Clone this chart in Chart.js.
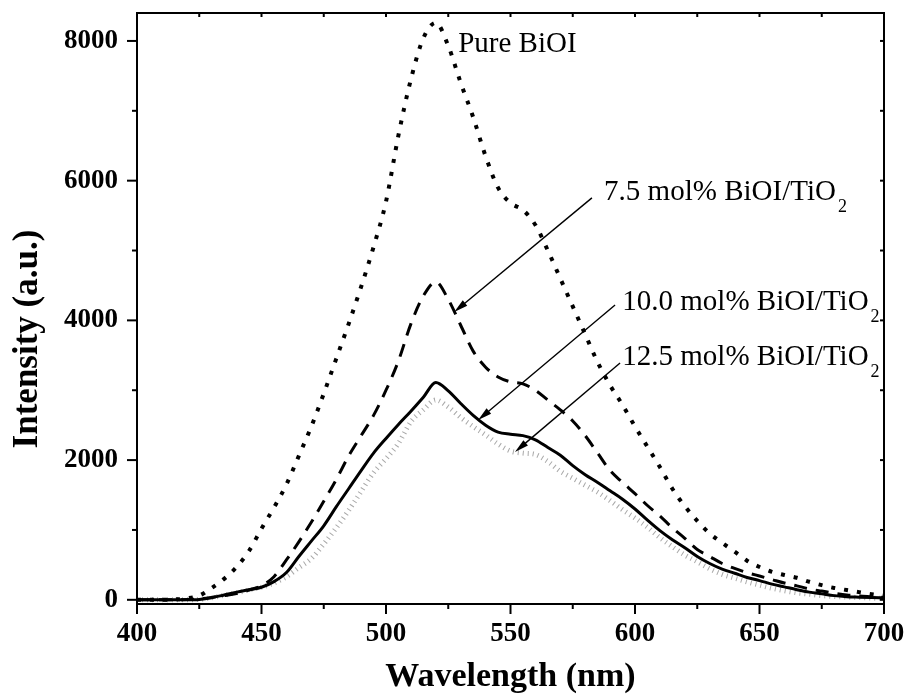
<!DOCTYPE html>
<html>
<head>
<meta charset="utf-8">
<title>PL spectra</title>
<script src="https://cdn.jsdelivr.net/npm/chart.js@4.4.1/dist/chart.umd.min.js"></script>
<style>
    html, body { margin: 0; padding: 0; background: #fff; }
</style>
</head>
<body>
<canvas id="plChart" width="907" height="699"></canvas>
<script>
// Wavelength grid (nm)
const wavelengths = [
    400, 405, 410, 415, 420, 425, 430, 435, 440, 445,
    450, 455, 460, 465, 470, 475, 480, 485, 490, 495,
    500, 505, 510, 515, 520, 525, 530, 535, 540, 545,
    550, 555, 560, 565, 570, 575, 580, 585, 590, 595,
    600, 605, 610, 615, 620, 625, 630, 635, 640, 645,
    650, 655, 660, 665, 670, 675, 680, 685, 690, 695,
    700
];

// Intensity (a.u.)
const pureBiOI = [
    0, 0, 0, 5, 20, 60, 170, 300, 470, 700,
    1020, 1320, 1650, 2060, 2480, 2950, 3450, 3950, 4480, 5050,
    5700, 6650, 7450, 8040, 8260, 7930, 7400, 6910, 6350, 5900,
    5680, 5580, 5365, 5000, 4600, 4200, 3800, 3400, 3070, 2790,
    2480, 2190, 1900, 1590, 1340, 1130, 950, 815, 690, 560,
    470, 400, 355, 315, 258, 210, 170, 140, 110, 80,
    60
];
const bioi75 = [
    0, 0, 0, 0, 5, 15, 35, 60, 90, 140,
    200, 330, 570, 830, 1110, 1410, 1720, 2060, 2350, 2640,
    3000, 3420, 3950, 4350, 4550, 4300, 3930, 3560, 3330, 3190,
    3120, 3090, 3000, 2860, 2720, 2560, 2350, 2100, 1850, 1680,
    1520, 1350, 1200, 1030, 880, 720, 620, 520, 450, 390,
    340, 290, 240, 200, 155, 125, 95, 70, 55, 45,
    35
];
const bioi100 = [
    0, 0, 0, 0, 0, 5, 30, 70, 110, 145,
    180, 260, 390, 620, 840, 1060, 1330, 1590, 1850, 2100,
    2310, 2510, 2700, 2900, 3110, 2990, 2810, 2640, 2500, 2400,
    2370, 2350, 2290, 2180, 2070, 1920, 1790, 1680, 1560, 1440,
    1300, 1140, 990, 860, 745, 620, 520, 440, 380, 320,
    275, 225, 185, 145, 110, 85, 60, 45, 38, 32,
    28
];
const bioi125 = [
    0, 0, 0, 0, 0, 5, 30, 65, 100, 140,
    180, 240, 330, 460, 590, 800, 1030, 1280, 1550, 1820,
    2020, 2240, 2550, 2720, 2860, 2760, 2610, 2480, 2360, 2230,
    2130, 2100, 2080, 1980, 1840, 1740, 1640, 1540, 1420, 1290,
    1170, 1040, 890, 760, 640, 545, 445, 365, 310, 255,
    210, 165, 130, 100, 80, 60, 48, 40, 32, 25,
    20
];

// Tick values
const xMajorTicks = [400, 450, 500, 550, 600, 650, 700];
const xMinorTicks = [425, 475, 525, 575, 625, 675];
const yMajorTicks = [0, 2000, 4000, 6000, 8000];
const yMinorTicks = [1000, 3000, 5000, 7000];

// Curve labels
const labelTexts = ['Pure BiOI', '7.5 mol% BiOI/TiO', '10.0 mol% BiOI/TiO', '12.5 mol% BiOI/TiO'];
const labelSubs = ['', '2', '2', '2'];

// Where labels and arrows go (data units)
const notes = [
    { text: [529, 7842], arrow: null },
    { text: [587.6, 5724], arrow: [582.7, 5754, 527.4, 4120] },
    { text: [594.9, 4148], arrow: [592, 4220, 537, 2574] },
    { text: [594.9, 3361], arrow: [594, 3389, 551.8, 2116] }
];

const SERIF = '"Liberation Serif", "Times New Roman", serif';

function toPoints(values) {
    return wavelengths.map((w, i) => ({ x: w, y: values[i] }));
}

// Arrow with filled narrow head
function drawArrow(ctx, x1, y1, x2, y2) {
    const ang = Math.atan2(y2 - y1, x2 - x1);
    const len = 14, half = 3.5;
    const c = Math.cos(ang), s = Math.sin(ang);
    ctx.lineWidth = 1.4;
    ctx.beginPath();
    ctx.moveTo(x1, y1);
    ctx.lineTo(x2 - c * len * 0.7, y2 - s * len * 0.7);
    ctx.stroke();
    ctx.beginPath();
    ctx.moveTo(x2, y2);
    ctx.lineTo(x2 - c * len + s * half, y2 - s * len - c * half);
    ctx.lineTo(x2 - c * len - s * half, y2 - s * len + c * half);
    ctx.closePath();
    ctx.fill();
}

// Frame, tick marks, axis titles and curve labels
const framePlugin = {
    id: 'framePlugin',
    afterDraw(chart) {
        const { ctx, chartArea: a, scales: { x, y } } = chart;
        ctx.save();
        ctx.strokeStyle = '#000';
        ctx.fillStyle = '#000';
        ctx.lineWidth = 2;
        ctx.strokeRect(a.left, a.top, a.right - a.left, a.bottom - a.top);

        const tick = (x1, y1, x2, y2) => {
            ctx.beginPath();
            ctx.moveTo(x1, y1);
            ctx.lineTo(x2, y2);
            ctx.stroke();
        };
        xMajorTicks.forEach(v => {
            const px = x.getPixelForValue(v);
            tick(px, a.bottom, px, a.bottom + 10);
            tick(px, a.top, px, a.top + 4);
        });
        xMinorTicks.forEach(v => {
            const px = x.getPixelForValue(v);
            tick(px, a.bottom, px, a.bottom + 5);
            tick(px, a.top, px, a.top + 4);
        });
        yMajorTicks.forEach(v => {
            const py = y.getPixelForValue(v);
            tick(a.left - 10, py, a.left, py);
            tick(a.right - 4, py, a.right, py);
        });
        yMinorTicks.forEach(v => {
            const py = y.getPixelForValue(v);
            tick(a.left - 5, py, a.left, py);
            tick(a.right - 4, py, a.right, py);
        });

        // Axis titles
        ctx.textAlign = 'center';
        ctx.textBaseline = 'middle';
        ctx.font = 'bold 34px ' + SERIF;
        ctx.fillText('Wavelength (nm)', (a.left + a.right) / 2, 677);
        ctx.save();
        ctx.translate(28, 339);
        ctx.rotate(-Math.PI / 2);
        ctx.font = 'bold 35px ' + SERIF;
        ctx.fillText('Intensity (a.u.)', 0, 0);
        ctx.restore();

        // Curve labels
        ctx.textAlign = 'left';
        ctx.textBaseline = 'alphabetic';
        notes.forEach((n, i) => {
            const tx = x.getPixelForValue(n.text[0]);
            const ty = y.getPixelForValue(n.text[1]);
            ctx.font = '29px ' + SERIF;
            ctx.fillText(labelTexts[i], tx, ty);
            if (labelSubs[i]) {
                const w = ctx.measureText(labelTexts[i]).width;
                ctx.font = '18px ' + SERIF;
                ctx.fillText(labelSubs[i], tx + w + 2, ty + 12);
            }
            if (n.arrow) {
                drawArrow(ctx,
                    x.getPixelForValue(n.arrow[0]), y.getPixelForValue(n.arrow[1]),
                    x.getPixelForValue(n.arrow[2]), y.getPixelForValue(n.arrow[3]));
            }
        });
        ctx.restore();
    }
};

const tickFont = { family: SERIF, size: 27, weight: 'bold' };

new Chart(document.getElementById('plChart'), {
    type: 'line',
    data: {
        datasets: [
            {
                label: 'Pure BiOI',
                data: toPoints(pureBiOI),
                borderColor: '#000',
                borderWidth: 4,
                borderDash: [4, 9]
            },
            {
                label: '7.5 mol% BiOI/TiO2',
                data: toPoints(bioi75),
                borderColor: '#000',
                borderWidth: 3,
                borderDash: [13, 9]
            },
            {
                label: '10.0 mol% BiOI/TiO2',
                data: toPoints(bioi100),
                borderColor: '#000',
                borderWidth: 3
            },
            {
                label: '12.5 mol% BiOI/TiO2',
                data: toPoints(bioi125),
                borderColor: '#a8a8a8',
                borderWidth: 5,
                borderDash: [1, 4],
                borderCapStyle: 'butt'
            }
        ]
    },
    options: {
        responsive: false,
        animation: false,
        devicePixelRatio: 1,
        layout: { padding: { top: 13, right: 23, left: 0, bottom: 0 } },
        elements: {
            point: { radius: 0 },
            line: { cubicInterpolationMode: 'monotone', fill: false }
        },
        plugins: {
            legend: { display: false },
            tooltip: { enabled: false }
        },
        scales: {
            x: {
                type: 'linear',
                min: 400,
                max: 700,
                grid: { display: false, drawTicks: false },
                border: { display: false },
                ticks: {
                    font: tickFont,
                    color: '#000',
                    padding: 14,
                    maxRotation: 0,
                    autoSkip: false,
                    callback: v => String(v)
                },
                afterBuildTicks: s => { s.ticks = xMajorTicks.map(v => ({ value: v })); },
                afterFit: s => {
                    s.height = 95;
                    s.paddingLeft = 0;
                    s.paddingRight = 0;
                }
            },
            y: {
                min: -60,
                max: 8400,
                grid: { display: false, drawTicks: false },
                border: { display: false },
                ticks: {
                    font: tickFont,
                    color: '#000',
                    padding: 19,
                    autoSkip: false,
                    callback: v => String(v)
                },
                afterBuildTicks: s => { s.ticks = yMajorTicks.map(v => ({ value: v })); },
                afterFit: s => {
                    s.width = 137;
                    s.paddingTop = 0;
                    s.paddingBottom = 0;
                }
            }
        }
    },
    plugins: [framePlugin]
});
</script>
</body>
</html>
